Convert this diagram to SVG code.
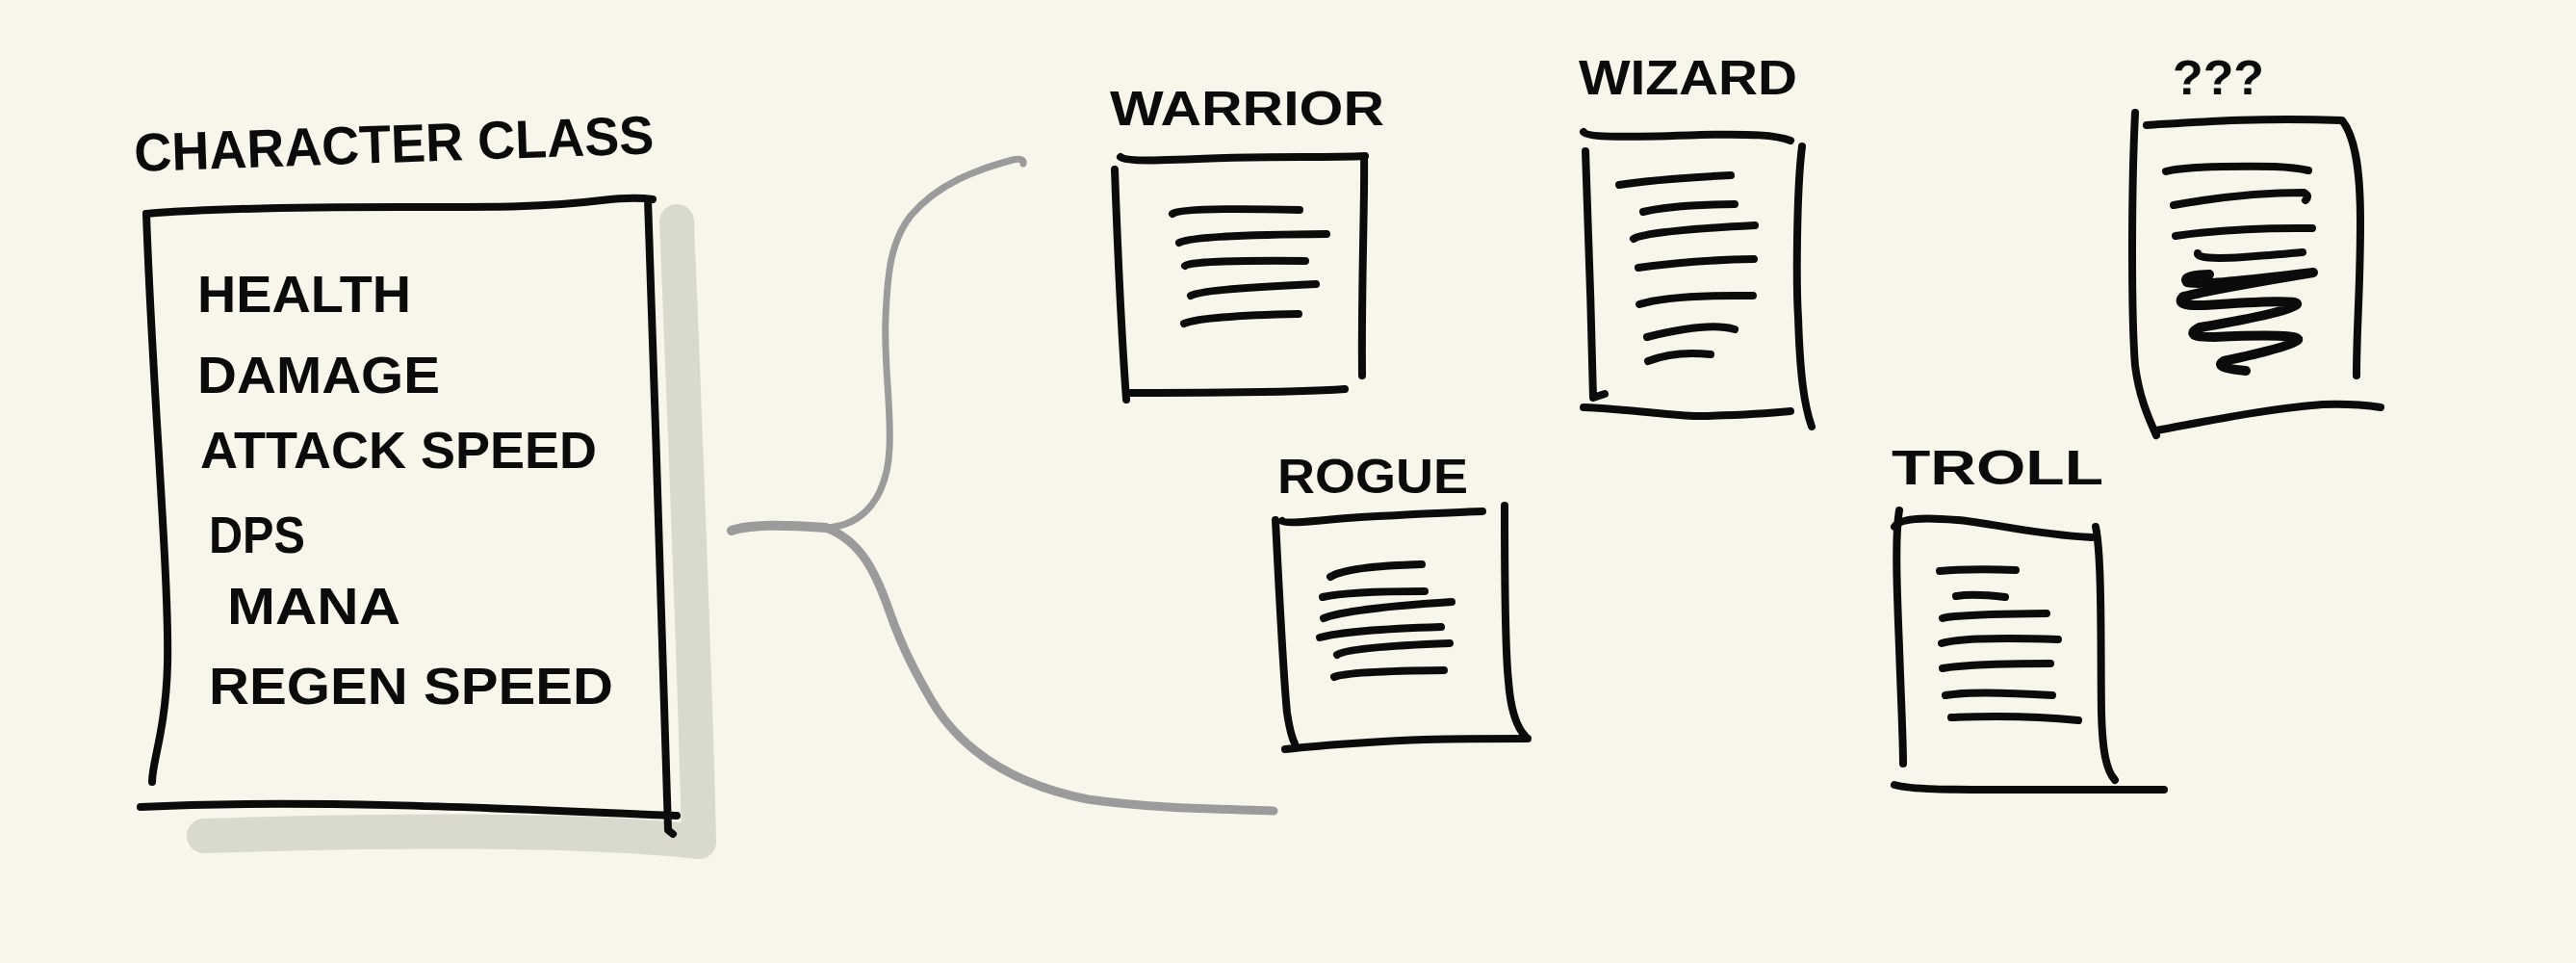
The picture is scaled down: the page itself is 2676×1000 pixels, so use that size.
<svg xmlns="http://www.w3.org/2000/svg" width="2676" height="1000" viewBox="0 0 2676 1000">
  <style>
    .ink { fill: none; stroke: #0b0b0b; stroke-width: 8; stroke-linecap: round; stroke-linejoin: round; }
    .row { fill: none; stroke: #0b0b0b; stroke-width: 8; stroke-linecap: round; }
    .scrawl { fill: none; stroke: #0b0b0b; stroke-width: 10; stroke-linecap: round; stroke-linejoin: round; }
    .shade { fill: none; stroke: #d9dacd; stroke-width: 36; stroke-linecap: round; stroke-linejoin: round; }
    .link { fill: none; stroke: #9b9b9b; stroke-linecap: round; stroke-linejoin: round; }
    .label { font-family: "Liberation Sans", "DejaVu Sans", sans-serif; font-weight: bold; fill: #0b0b0b; }
    .title { font-size: 56px; }
    .field { font-size: 54px; }
    .name { font-size: 50px; }
  </style>

  <rect width="2676" height="1000" fill="#f8f6ea"/>

  <!-- base class card with its drop shadow and field list -->
  <g id="character-class">
    <path class="shade" d="M703,230 C712,450 722,700 726,874"/>
    <path class="shade" d="M212,868 C400,862 600,860 726,874"/>
    <text class="label title" x="140" y="178" textLength="540" lengthAdjust="spacingAndGlyphs" transform="rotate(-2 140 178)">CHARACTER CLASS</text>
    <path class="ink" d="M152,222 C200,218 300,215 415,215 C500,215 560,216 625,208 C650,205 665,205 678,207"/>
    <path class="ink" d="M152,222 C158,400 176,600 174,690 C172,760 158,790 158,812"/>
    <path class="ink" d="M673,207 C680,420 690,700 694,862 L699,866"/>
    <path class="ink" d="M146,838 C300,830 500,838 703,847"/>
    <text class="label field" x="205" y="324" textLength="222" lengthAdjust="spacingAndGlyphs">HEALTH</text>
    <text class="label field" x="205" y="408" textLength="252" lengthAdjust="spacingAndGlyphs">DAMAGE</text>
    <text class="label field" x="208" y="486" textLength="412" lengthAdjust="spacingAndGlyphs">ATTACK SPEED</text>
    <text class="label field" x="217" y="574" textLength="100" lengthAdjust="spacingAndGlyphs">DPS</text>
    <text class="label field" x="236" y="648" textLength="180" lengthAdjust="spacingAndGlyphs">MANA</text>
    <text class="label field" x="217" y="731" textLength="420" lengthAdjust="spacingAndGlyphs">REGEN SPEED</text>
  </g>

  <!-- brace fanning out to the subclasses -->
  <g id="connectors">
    <path class="link" stroke-width="10" d="M760,551 C780,544 815,545 858,548"/>
    <path class="link" stroke-width="7" d="M858,548 C898,546 922,515 924,465 C926,420 918,380 920,330 C922,280 926,250 946,224 C975,190 1015,176 1052,166 C1060,164 1064,166 1063,170"/>
    <path class="link" stroke-width="9" d="M858,548 C895,562 910,595 924,635 C938,675 952,700 968,728 C998,778 1050,814 1130,830 C1200,840 1270,840 1323,842"/>
  </g>

  <g id="warrior">
    <text class="label name" x="1153" y="130" textLength="285" lengthAdjust="spacingAndGlyphs">WARRIOR</text>
    <path class="ink" d="M1164,163 C1170,168 1200,167 1273,164 C1330,162 1380,164 1418,162"/>
    <path class="ink" d="M1158,176 C1161,260 1166,360 1170,415"/>
    <path class="ink" d="M1417,163 C1418,200 1414,300 1415,390"/>
    <path class="ink" d="M1174,408 C1250,408 1340,408 1397,404"/>
    <path class="row" d="M1218,222 Q1228,215 1350,218"/>
    <path class="row" d="M1225,252 Q1240,244 1378,243"/>
    <path class="row" d="M1231,276 Q1236,270 1356,271"/>
    <path class="row" d="M1237,307 Q1250,300 1367,295"/>
    <path class="row" d="M1230,336 Q1250,328 1349,326"/>
  </g>

  <g id="wizard">
    <text class="label name" x="1640" y="98" textLength="227" lengthAdjust="spacingAndGlyphs">WIZARD</text>
    <path class="ink" d="M1645,137 C1650,144 1700,142 1767,140 C1820,139 1845,140 1860,146"/>
    <path class="ink" d="M1647,157 C1650,230 1653,330 1655,413 L1667,409"/>
    <path class="ink" d="M1872,152 C1866,200 1866,300 1868,330 C1870,390 1874,420 1882,443"/>
    <path class="ink" d="M1645,423 C1700,425 1740,433 1767,432 C1810,431 1840,429 1860,427"/>
    <path class="row" d="M1682,192 Q1720,186 1798,182"/>
    <path class="row" d="M1707,220 Q1735,213 1802,212"/>
    <path class="row" d="M1697,248 Q1710,240 1823,234"/>
    <path class="row" d="M1702,278 Q1760,270 1822,269"/>
    <path class="row" d="M1703,316 Q1735,306 1821,307"/>
    <path class="row" d="M1711,350 Q1775,334 1802,342"/>
    <path class="row" d="M1712,375 Q1740,364 1777,368"/>
  </g>

  <g id="unknown">
    <text class="label name" x="2257" y="98" textLength="95" lengthAdjust="spacingAndGlyphs">???</text>
    <path class="ink" d="M2218,117 C2214,200 2214,330 2218,380 C2222,410 2230,430 2240,452"/>
    <path class="ink" d="M2230,130 C2280,127 2340,122 2433,125 C2445,140 2452,170 2452,230 C2452,300 2448,340 2448,390"/>
    <path class="ink" d="M2240,447 C2290,438 2350,425 2413,420 C2440,419 2460,421 2473,423"/>
    <path class="row" d="M2250,178 Q2270,172 2363,173 Q2385,174 2398,177"/>
    <path class="row" d="M2258,213 Q2330,200 2393,200 Q2400,203 2395,208"/>
    <path class="row" d="M2260,245 Q2320,236 2402,237"/>
    <path class="row" d="M2283,263 Q2282,270 2330,267 Q2370,264 2392,262"/>
    <path class="scrawl" d="M2295,285 Q2266,286 2272,293 Q2280,298 2403,283 Q2300,300 2268,308 Q2258,318 2290,317 Q2390,310 2386,316 Q2380,324 2285,340 Q2266,350 2300,350 Q2390,346 2387,353 Q2380,360 2310,375 Q2298,382 2333,385"/>
  </g>

  <g id="rogue">
    <text class="label name" x="1327" y="512" textLength="198" lengthAdjust="spacingAndGlyphs">ROGUE</text>
    <path class="ink" d="M1332,541 C1336,545 1380,539 1413,537 C1470,534 1510,532 1540,531"/>
    <path class="ink" d="M1325,540 C1328,600 1333,700 1337,740 C1340,760 1343,768 1345,772"/>
    <path class="ink" d="M1563,525 C1563,580 1564,680 1567,707 C1569,735 1575,755 1585,765"/>
    <path class="ink" d="M1335,778 C1380,773 1450,769 1480,768 C1530,767 1560,767 1587,767"/>
    <path class="row" d="M1382,599 Q1400,588 1477,586"/>
    <path class="row" d="M1374,620 Q1400,614 1480,614"/>
    <path class="row" d="M1375,642 Q1400,632 1508,625"/>
    <path class="row" d="M1371,662 Q1400,654 1497,651"/>
    <path class="row" d="M1389,680 Q1400,672 1506,668"/>
    <path class="row" d="M1386,703 Q1400,697 1500,696"/>
  </g>

  <g id="troll">
    <text class="label name" x="1965" y="503" textLength="220" lengthAdjust="spacingAndGlyphs">TROLL</text>
    <path class="ink" d="M1973,530 C1968,560 1971,620 1973,673 C1975,730 1977,770 1977,793"/>
    <path class="ink" d="M1968,547 C1975,536 2010,538 2033,540 C2070,543 2110,555 2173,558"/>
    <path class="ink" d="M2177,547 C2184,580 2182,680 2183,740 C2184,780 2188,800 2197,810"/>
    <path class="ink" d="M1968,815 C1985,820 2030,820 2067,820 C2150,820 2200,820 2248,820"/>
    <path class="row" d="M2015,593 Q2050,590 2094,592"/>
    <path class="row" d="M2032,619 Q2050,616 2083,620"/>
    <path class="row" d="M2018,642 Q2030,638 2126,637"/>
    <path class="row" d="M2017,668 Q2040,661 2138,664"/>
    <path class="row" d="M2018,694 Q2050,689 2130,689"/>
    <path class="row" d="M2021,722 Q2050,717 2132,722"/>
    <path class="row" d="M2027,745 Q2100,742 2159,748"/>
  </g>
</svg>
